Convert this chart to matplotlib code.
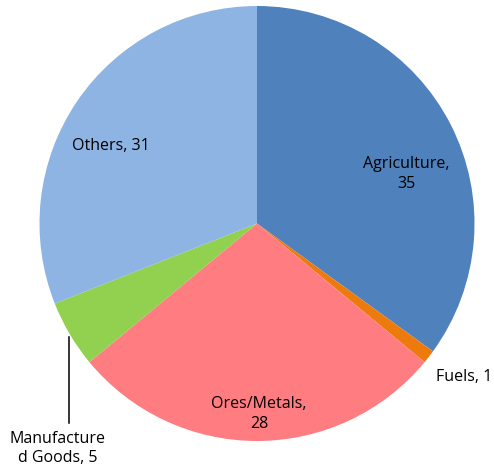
import matplotlib.pyplot as plt

categories = ["Agriculture", "Fuels", "Ores/Metals", "Manufacture\nd Goods", "Others"]
values = [35, 1, 28, 5, 31]
colors = ["#4F81BD", "#EC7A0C", "#FF7C80", "#92D050", "#8EB4E3"]

plt.rcParams['font.family'] = ['Open Sans', 'DejaVu Sans']

fig = plt.figure(figsize=(4.94, 4.75), dpi=100)
ax = fig.add_axes([39.5 / 494, 34 / 475, 435 / 494, 435 / 475])

wedges, _ = ax.pie(values, colors=colors, startangle=90, counterclock=False,
                   radius=1.0, wedgeprops=dict(linewidth=0))
ax.set_xlim(-1, 1)
ax.set_ylim(-1, 1)
ax.set_aspect('equal')
ax.axis('off')

# label positions (in pie-radius units) and alignment
label_pos = [(0.687, 0.228, 'center'), (0.821, -0.706, 'left'),
             (0.009, -0.876, 'center'), (-0.915, -1.034, 'center'),
             (-0.674, 0.356, 'center')]
two_line = {"Agriculture", "Ores/Metals"}

for cat, val, (x, y, ha) in zip(categories, values, label_pos):
    sep = ",\n" if cat in two_line else ", "
    ax.text(x, y, f"{cat}{sep}{val}", ha=ha, va='center', fontsize=11.5,
            linespacing=1.3, color='black', clip_on=False)

# leader line for the small slice
ax.plot([-0.865, -0.865], [-0.522, -0.917], color='black', lw=1.1,
        clip_on=False)

fig.savefig("out.png", dpi=100)
